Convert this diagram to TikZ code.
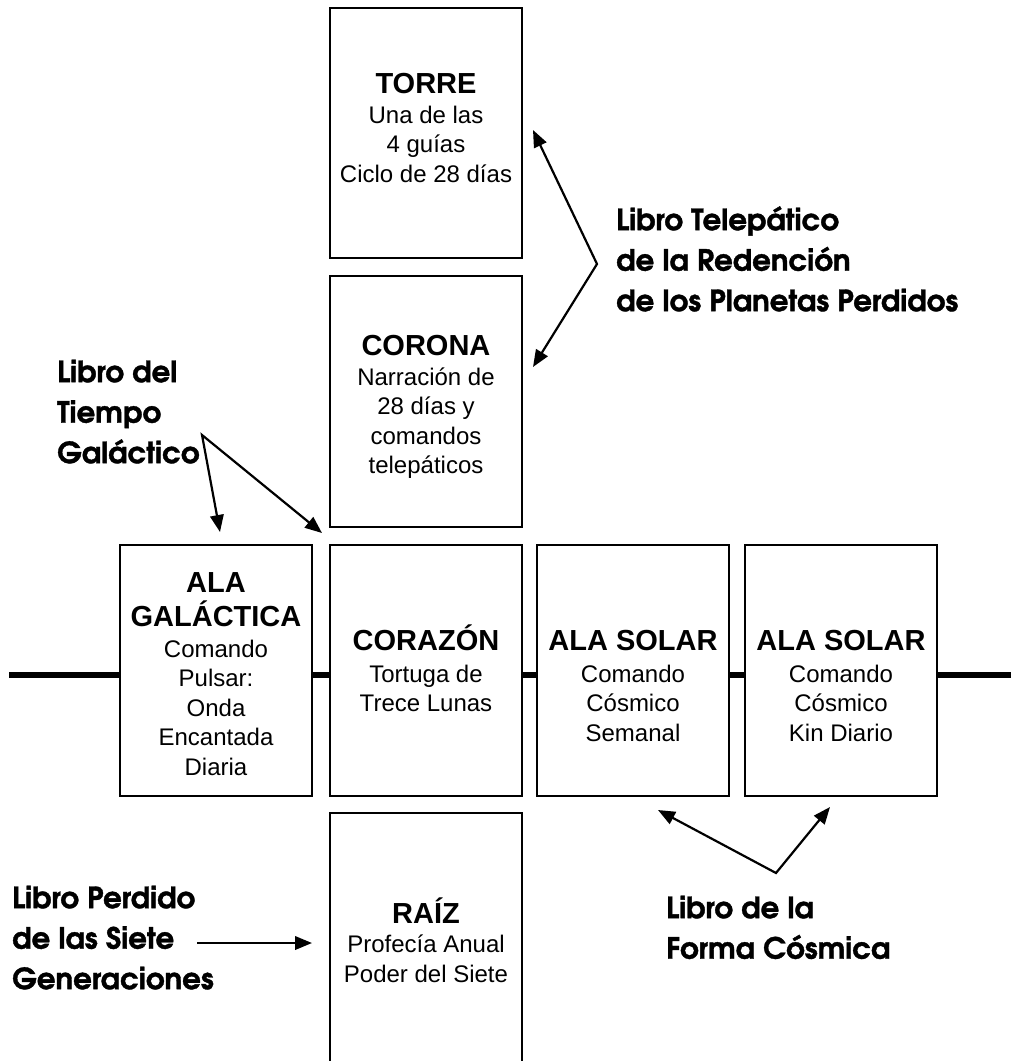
\documentclass[tikz,border=0pt]{standalone}
\usepackage{fontspec}
\setmainfont{Liberation Sans}
\newfontfamily\labfont{texgyreadventor}[Extension=.otf, UprightFont=*-regular, BoldFont=*-bold, BoldFeatures={FakeBold=1.2}]
\usetikzlibrary{arrows.meta}
\newcommand\boxtitle[1]{{\rule{0pt}{30pt}\bfseries\fontsize{29}{29.5}\selectfont #1}}
\newcommand\boxtitleb[1]{{\bfseries\fontsize{29}{29.5}\selectfont #1}}
\begin{document}
\begin{tikzpicture}[x=1pt,y=-1pt,
  box/.style={draw, line width=2pt, fill=white, minimum width=192pt, inner sep=0pt, anchor=center},
  boxtxt/.style={align=center, anchor=north, inner sep=0pt, font=\fontsize{24}{29.5}\selectfont},
  lab/.style={align=left, anchor=north west, inner sep=0pt, font=\labfont\bfseries\fontsize{29.3}{40.5}\selectfont},
  arr/.style={line width=2.2pt, {Triangle[length=17pt,width=13.5pt]}-{Triangle[length=17pt,width=13.5pt]}},
  arrone/.style={line width=2.2pt, -{Triangle[length=17pt,width=13.5pt]}}]
\useasboundingbox (0,0) rectangle (1011,1061);
% horizontal axis
\coordinate (hl) at (9,675);
\coordinate (hr) at (1016,675);
\draw[line width=6pt] (hl) -- (hr);
% boxes
\node[box, minimum height=250pt] (torre) at (426,133) {};
\node[box, minimum height=251pt] (corona) at (426,401.5) {};
\node[box, minimum height=251pt] (gal) at (216,670.5) {};
\node[box, minimum height=251pt] (cora) at (426,670.5) {};
\node[box, minimum height=251pt] (sol1) at (633,670.5) {};
\node[box, minimum height=251pt] (sol2) at (841,670.5) {};
\node[box, minimum height=252pt] (raiz) at (426,939) {};
% box texts
\node[boxtxt] (torret) at (426,63) {\boxtitle{TORRE}\\[0.5pt]Una de las\\4 guías\\Ciclo de 28 días};
\node[boxtxt] (coronat) at (426,325) {\boxtitle{CORONA}\\[0.5pt]Narración de\\28 días y\\comandos\\telepáticos};
\node[boxtxt] (galt) at (216,562) {\boxtitle{ALA}\\[4.5pt]\boxtitleb{GALÁCTICA}\\[1.5pt]Comando\\Pulsar:\\Onda\\Encantada\\Diaria};
\node[boxtxt] (corat) at (426,620) {\boxtitle{CORAZÓN}\\[2.5pt]Tortuga de\\Trece Lunas};
\node[boxtxt] (sol1t) at (633,620) {\boxtitle{ALA SOLAR}\\[2.5pt]Comando\\Cósmico\\Semanal};
\node[boxtxt] (sol2t) at (841,620) {\boxtitle{ALA SOLAR}\\[2.5pt]Comando\\Cósmico\\Kin Diario};
\node[boxtxt] (raizt) at (426,893) {\boxtitle{RAÍZ}\\Profecía Anual\\Poder del Siete};
% labels
\node[lab] (tel) at (616,205) {\rule{0pt}{25pt}Libro Telepático\\de la Redención\\de los Planetas Perdidos};
\node[lab] (galab) at (57,357) {\rule{0pt}{25pt}Libro del\\Tiempo\\Galáctico};
\node[lab] (perd) at (12,883) {\rule{0pt}{25pt}Libro Perdido\\de las Siete\\Generaciones};
\node[lab] (forma) at (666,893) {\rule{0pt}{25pt}Libro de la\\Forma Cósmica};
% arrows
\coordinate (tp) at (597,264);
\coordinate (ta) at (533,130);
\coordinate (tb) at (533,367);
\draw[arr] (ta) -- (tp) -- (tb);
\coordinate (gp) at (202,435);
\coordinate (ga) at (220,532);
\coordinate (gb) at (322,533);
\draw[arr] (ga) -- (gp) -- (gb);
\coordinate (pp) at (197,943);
\coordinate (pa) at (312,943);
\draw[arrone] (pp) -- (pa);
\coordinate (fp) at (776,873);
\coordinate (fa) at (658,810);
\coordinate (fb) at (830,807);
\draw[arr] (fa) -- (fp) -- (fb);
\end{tikzpicture}
\end{document}
